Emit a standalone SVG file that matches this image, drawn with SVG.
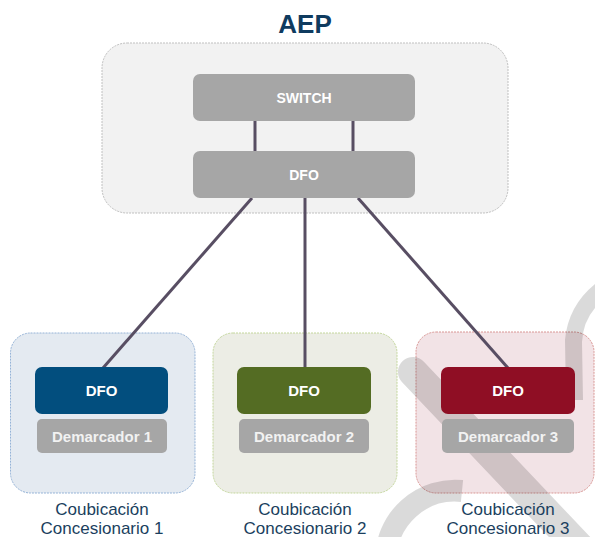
<svg xmlns="http://www.w3.org/2000/svg" width="595" height="537" viewBox="0 0 595 537">
<style>
.box{font-family:"Liberation Sans",Arial,sans-serif;font-weight:bold;text-anchor:middle;}
.w{fill:#ffffff;}
.lt{fill:#f2f2f2;}
.lbl{font-family:"Liberation Sans",Arial,sans-serif;font-size:17px;fill:#1b3f5e;text-anchor:middle;}
.grey{fill:#a6a6a6;}
.con{stroke:#584e63;stroke-width:3;fill:none;}
.wm{fill:#000000;fill-opacity:0.145;}
</style>
<rect width="595" height="537" fill="#ffffff"/>
<text x="305" y="33" class="box" font-size="26" fill="#0f3b5f">AEP</text>
<g id="aep">
<rect x="102" y="43" width="406" height="170" rx="25" fill="#f2f2f2" stroke="#bfbfbf" stroke-width="1" stroke-dasharray="2 1"/>
</g>
<g id="coub1">
<rect x="10.5" y="333" width="184.5" height="160" rx="20" fill="#e4eaf1" stroke="#95b3d7" stroke-width="1" stroke-dasharray="2 1"/>
</g>
<g id="coub2">
<rect x="213" y="333" width="184" height="160" rx="20" fill="#ecede5" stroke="#c3d69b" stroke-width="1" stroke-dasharray="2 1"/>
</g>
<g id="coub3">
<rect x="416" y="332" width="178" height="161" rx="20" fill="#f2e3e6" stroke="#d99694" stroke-width="1" stroke-dasharray="2 1"/>
</g>
<g id="watermark">
<path class="wm" d="M595,284 Q568,306 565,340 L566,400 L583,400 L582,342 Q583,322 595,308 Z"/>
<line x1="413" y1="372" x2="580" y2="548" stroke="#000" stroke-opacity="0.145" stroke-width="30" stroke-linecap="round"/>
<path d="M386,560 A69,69 0 0 1 462,491" fill="none" stroke="#000" stroke-opacity="0.145" stroke-width="22"/>
</g>
<g id="connectors">
<line class="con" x1="255" y1="121" x2="255" y2="151"/>
<line class="con" x1="353" y1="121" x2="353" y2="151"/>
<line class="con" x1="252" y1="198" x2="103" y2="368"/>
<line class="con" x1="305" y1="198" x2="305" y2="368"/>
<line class="con" x1="358" y1="198" x2="508" y2="368"/>
</g>
<g id="switch">
<rect x="193" y="74" width="222" height="47" rx="7" class="grey"/>
<text x="304" y="102.5" class="box w" font-size="14">SWITCH</text>
</g>
<g id="dfo-aep">
<rect x="193" y="151" width="222" height="47" rx="7" class="grey"/>
<text x="304" y="179.5" class="box w" font-size="14">DFO</text>
</g>
<g id="dfo1">
<rect x="35" y="367" width="133" height="47" rx="7" fill="#024e7e"/>
<text x="101.5" y="396" class="box w" font-size="15">DFO</text>
</g>
<g id="dem1">
<rect x="37" y="419" width="130" height="34" rx="5" class="grey"/>
<text x="102" y="441.5" class="box lt" font-size="15">Demarcador 1</text>
</g>
<g id="dfo2">
<rect x="237" y="367" width="134" height="47" rx="7" fill="#546c23"/>
<text x="304" y="396" class="box w" font-size="15">DFO</text>
</g>
<g id="dem2">
<rect x="239" y="419" width="130" height="34" rx="5" class="grey"/>
<text x="304" y="441.5" class="box lt" font-size="15">Demarcador 2</text>
</g>
<g id="dfo3">
<rect x="441" y="367" width="134" height="47" rx="7" fill="#8f0e24"/>
<text x="508" y="396" class="box w" font-size="15">DFO</text>
</g>
<g id="dem3">
<rect x="442" y="419" width="132" height="34" rx="5" class="grey"/>
<text x="508" y="441.5" class="box lt" font-size="15">Demarcador 3</text>
</g>
<g id="labels">
<text x="102" y="515" class="lbl">Coubicación</text>
<text x="102" y="534" class="lbl">Concesionario 1</text>
<text x="305" y="515" class="lbl">Coubicación</text>
<text x="305" y="534" class="lbl">Concesionario 2</text>
<text x="508" y="515" class="lbl">Coubicación</text>
<text x="508" y="534" class="lbl">Concesionario 3</text>
</g>
</svg>
